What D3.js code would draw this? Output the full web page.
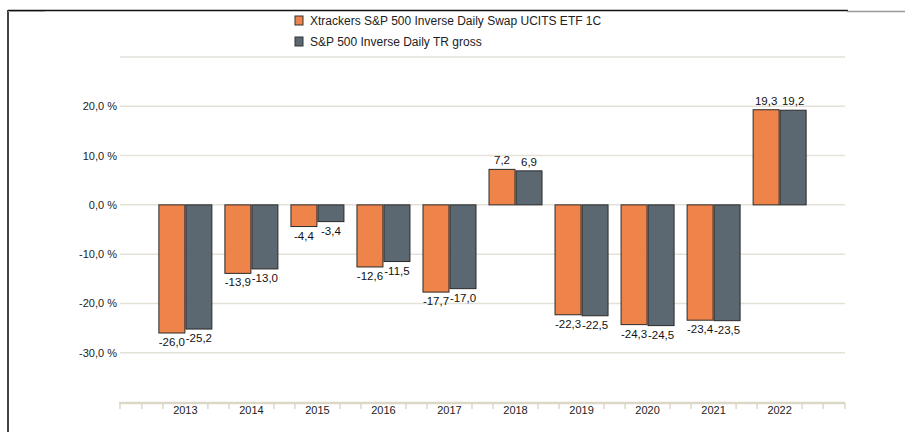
<!DOCTYPE html>
<html>
<head>
<meta charset="utf-8">
<style>
body { margin: 0; background: #fff; }
svg { display: block; font-family: "Liberation Sans", Arial, sans-serif; }
.grid line { stroke: #e3e1d8; stroke-width: 1.5; }
.ylab { font-size: 11px; fill: #222; }
.val { font-size: 11.5px; fill: #111; }
.xlab { font-size: 11px; fill: #222; }
.leg text { font-size: 12px; fill: #222; }
</style>
</head>
<body>
<svg id="chart" width="905" height="432"></svg>
<script src="https://d3js.org/d3.v7.min.js"></script>
<script>
// data
var years = ["2013", "2014", "2015", "2016", "2017", "2018", "2019", "2020", "2021", "2022"];
var seriesNames = ["Xtrackers S&P 500 Inverse Daily Swap UCITS ETF 1C", "S&P 500 Inverse Daily TR gross"];
var etf = [-26.0, -13.9, -4.4, -12.6, -17.7, 7.2, -22.3, -24.3, -23.4, 19.3];
var index = [-25.2, -13.0, -3.4, -11.5, -17.0, 6.9, -22.5, -24.5, -23.5, 19.2];
var yTicks = [-30, -20, -10, 0, 10, 20];
var gridTicks = [-30, -20, -10, 0, 10, 20, 30];
var colors = ["#ef844a", "#5b6872"];

var svg = d3.select("#chart");
var fmt = function(v) { return d3.format(".1f")(v).replace(".", ",").replace("−", "-"); };

var x = d3.scaleBand().domain(years).range([120, 845]).paddingInner(0).paddingOuter(0.49);
var xs = d3.scaleBand().domain([0, 1]).range([0, 54]);
var y = d3.scaleLinear().domain([-40, 30]).range([402, 57]);

// frame
svg.append("line").attr("x1", 8).attr("x2", 8).attr("y1", 10).attr("y2", 432)
  .attr("stroke", "#444").attr("stroke-width", 2);
svg.append("line").attr("x1", 8).attr("x2", 848).attr("y1", 10.5).attr("y2", 10.5)
  .attr("stroke", "#111").attr("stroke-width", 1.5);
svg.append("line").attr("x1", 8).attr("x2", 45).attr("y1", 11.5).attr("y2", 11.5)
  .attr("stroke", "#999").attr("stroke-width", 1);
svg.append("line").attr("x1", 847).attr("x2", 905).attr("y1", 11.5).attr("y2", 11.5)
  .attr("stroke", "#999").attr("stroke-width", 1.5);

// grid
svg.append("g").attr("class", "grid").selectAll("line").data(gridTicks).join("line")
  .attr("x1", 120).attr("x2", 845)
  .attr("y1", d => y(d)).attr("y2", d => y(d));

svg.append("g").selectAll("text").data(yTicks).join("text")
  .attr("class", "ylab")
  .attr("x", 117).attr("y", d => y(d) + 4)
  .attr("text-anchor", "end")
  .text(d => fmt(d) + " %");

// bars
var rows = years.map((yr, i) => ({ year: yr, vals: [etf[i], index[i]] }));
var grp = svg.append("g").selectAll("g").data(rows).join("g")
  .attr("transform", d => "translate(" + (x(d.year) + x.bandwidth() / 2 - 27) + ",0)");

grp.selectAll("rect").data(d => d.vals.map((v, k) => ({ v: v, k: k }))).join("rect")
  .attr("x", d => xs(d.k) + 0.5)
  .attr("width", xs.bandwidth() - 1)
  .attr("y", d => y(Math.max(0, d.v)))
  .attr("height", d => Math.abs(y(d.v) - y(0)))
  .attr("fill", d => colors[d.k])
  .attr("stroke", "#2a2a2a").attr("stroke-width", 1);

grp.selectAll("text").data(d => d.vals.map((v, k) => ({ v: v, k: k }))).join("text")
  .attr("class", "val")
  .attr("x", d => xs(d.k) + xs.bandwidth() / 2)
  .attr("y", d => d.v >= 0 ? y(d.v) - 5 : y(d.v) + 13)
  .attr("text-anchor", "middle")
  .text(d => fmt(d.v));

// x axis
var axisY = 403;
svg.append("line").attr("x1", 119).attr("x2", 845).attr("y1", axisY).attr("y2", axisY)
  .attr("stroke", "#dcd8c8").attr("stroke-width", 2.5);
var tickXs = [120, 845];
years.forEach(function(yr) {
  var c = x(yr) + x.bandwidth() / 2;
  tickXs.push(c - 22.5, c + 22.5);
});
tickXs.push(x(years[0]) + x.bandwidth() / 2 - x.step() + 22.5);
tickXs.push(x(years[years.length - 1]) + x.bandwidth() / 2 + x.step() - 22.5);
svg.append("g").selectAll("line").data(tickXs).join("line")
  .attr("x1", d => d).attr("x2", d => d)
  .attr("y1", axisY).attr("y2", axisY + 6)
  .attr("stroke", "#dcd8c8").attr("stroke-width", 1.5);
svg.append("g").selectAll("text").data(years).join("text")
  .attr("class", "xlab")
  .attr("x", d => x(d) + x.bandwidth() / 2)
  .attr("y", axisY + 11)
  .attr("text-anchor", "middle")
  .text(d => d);

// legend
var leg = svg.append("g").attr("class", "leg").selectAll("g").data(seriesNames).join("g")
  .attr("transform", (d, i) => "translate(295," + (16 + i * 21) + ")");
leg.append("rect").attr("width", 8).attr("height", 9)
  .attr("fill", (d, i) => colors[i]).attr("stroke", "#333").attr("stroke-width", 1);
leg.append("text").attr("x", 15).attr("y", 8.5).text(d => d);
</script>
</body>
</html>
